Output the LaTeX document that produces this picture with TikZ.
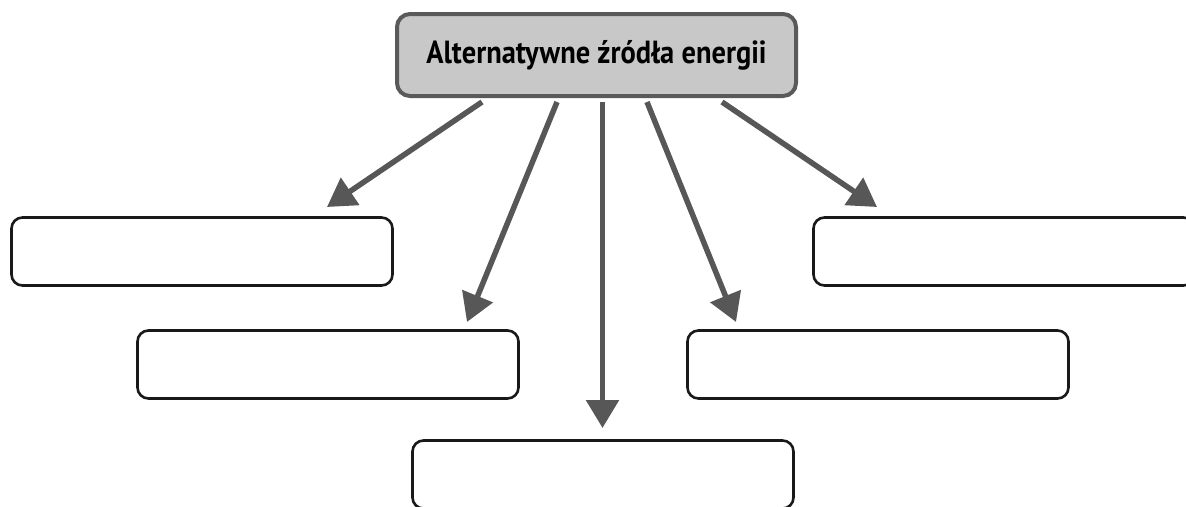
\documentclass[tikz,border=0pt]{standalone}
\usepackage{fontspec}
\setmainfont{PT Sans}
\newfontfamily\titlefont[FakeStretch=0.89]{PT Sans}
\usetikzlibrary{arrows.meta}
\definecolor{arrowgray}{HTML}{575757}
\definecolor{topfill}{HTML}{C8C8C8}
\definecolor{topline}{HTML}{5A5A5A}
\tikzset{
  emptybox/.style={draw=black!90, line width=2.6pt, rounded corners=11pt, fill=white,
    minimum width=381pt, minimum height=68pt, inner sep=0pt},
  topbox/.style={draw=topline, line width=4pt, rounded corners=13pt, fill=topfill,
    minimum width=399pt, minimum height=82pt, inner sep=0pt,
    font=\titlefont\bfseries\fontsize{32}{38}\selectfont},
  arr/.style={draw=arrowgray, line width=5.5pt, -{Triangle[width=32pt,length=28pt]}, arrowgray}
}
\begin{document}
\begin{tikzpicture}[x=1pt,y=-1pt]
\clip (0,0) rectangle (1186,506);
\fill[white] (0,0) rectangle (1186,506);
\node[emptybox] (b1) at (202,251.5) {};
\node[emptybox] (b2) at (328,364.5) {};
\node[emptybox] (b3) at (603,474.5) {};
\node[emptybox] (b4) at (878,364.5) {};
\node[emptybox] (b5) at (1004,251.5) {};
\coordinate (t1) at (327,207);
\coordinate (t2) at (467,322);
\coordinate (t3) at (602.5,428);
\coordinate (t4) at (736,322);
\coordinate (t5) at (877,207);
\coordinate (top c) at (596.5,55);
\draw[arr] ([xshift=-114.5pt,yshift=-6pt]top c |- 0,96) -- (t1);
\draw[arr] ([xshift=-39.5pt,yshift=-6pt]top c |- 0,96) -- (t2);
\draw[arr] ([xshift=6pt,yshift=-6pt]top c |- 0,96) -- (t3);
\draw[arr] ([xshift=50.5pt,yshift=-6pt]top c |- 0,96) -- (t4);
\draw[arr] ([xshift=125.5pt,yshift=-6pt]top c |- 0,96) -- (t5);
\node[topbox] (top) at (top c) {Alternatywne źródła energii};
\end{tikzpicture}
\end{document}
